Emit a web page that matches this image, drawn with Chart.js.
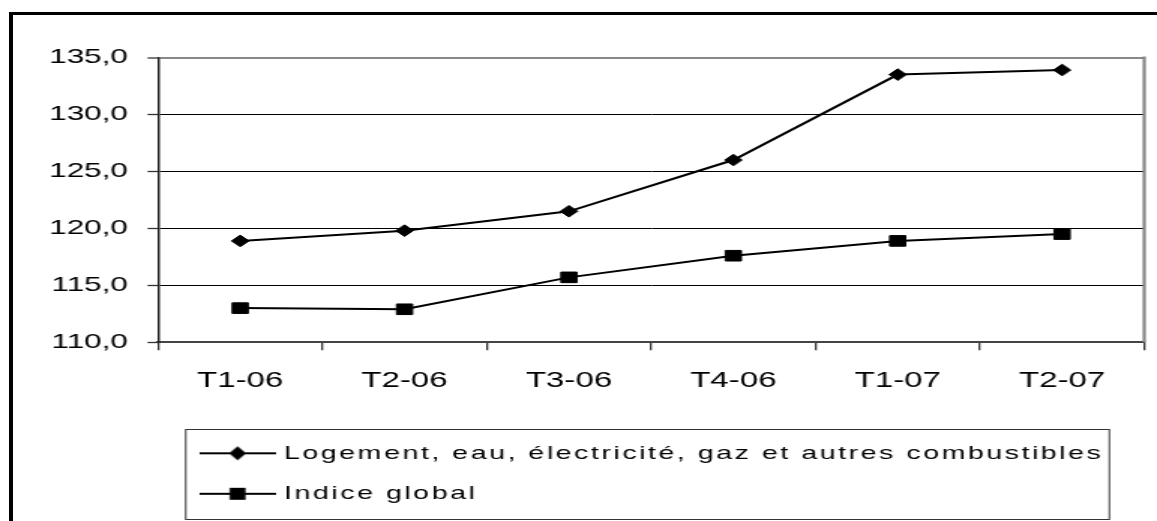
<!DOCTYPE html>
<html><head><meta charset="utf-8">
<script src="https://cdn.jsdelivr.net/npm/chart.js@4"></script>
<style>
html,body{margin:0;padding:0;background:#fff;overflow:hidden;width:1157px;height:521px;}
#c{position:absolute;left:0;top:0;transform-origin:0 0;transform:scaleX(1.50065);}
#frame{position:absolute;left:9px;top:12px;width:1300px;height:700px;border-left:4px solid #000;border-top:3px solid #000;pointer-events:none;}
</style></head><body>
<canvas id="c" width="771" height="521"></canvas>
<div id="frame"></div>
<script>
const categories = ['T1-06', 'T2-06', 'T3-06', 'T4-06', 'T1-07', 'T2-07'];
const logementValues = [118.9, 119.8, 121.5, 126.0, 133.5, 133.9];
const indiceValues = [113.0, 112.9, 115.7, 117.6, 118.9, 119.5];
const seriesNames = ['Logement, eau, électricité, gaz et autres combustibles', 'Indice global'];
const yTickValues = [110, 115, 120, 125, 130, 135];
const yTickLabels = ['110,0', '115,0', '120,0', '125,0', '130,0', '135,0'];

const FONT = '"Liberation Sans", Arial, Helvetica, sans-serif';
Chart.defaults.font.family = FONT;

function legendIcon(kind) {
  const c = document.createElement('canvas');
  c.width = 51; c.height = 16;
  const g = c.getContext('2d');
  g.strokeStyle = '#000'; g.lineWidth = 2;
  g.beginPath(); g.moveTo(0, 8); g.lineTo(51, 8); g.stroke();
  g.fillStyle = '#000'; g.beginPath();
  if (kind === 'diamond') {
    g.moveTo(25.5 - 5.7, 8); g.lineTo(25.5, 1); g.lineTo(25.5 + 5.7, 8); g.lineTo(25.5, 15); g.closePath();
  } else {
    g.rect(25.5 - 5.3, 2, 10.6, 12);
  }
  g.fill();
  return c;
}
const icons = [legendIcon('diamond'), legendIcon('square')];

const SPACING = '1.7px';
const framePlugin = {
  id: 'framePlugin',
  beforeLayout(chart) { chart.ctx.letterSpacing = SPACING; },
  afterLayout(chart) {
    chart.ctx.letterSpacing = '0px';
    const lg = chart.legend;
    if (lg) { lg.left += 10; lg.right += 10; }
  },
  beforeDraw(chart) { chart.ctx.letterSpacing = SPACING; },
  afterDatasetsDraw(chart) { chart.ctx.letterSpacing = '0px'; },
  afterDraw(chart) {
    const ctx = chart.ctx, a = chart.chartArea;
    ctx.save();
    ctx.strokeStyle = '#888'; ctx.lineWidth = 2.2;
    ctx.beginPath(); ctx.moveTo(a.right, a.top - 1); ctx.lineTo(a.right, a.bottom); ctx.stroke();
    const hb = chart.legend && chart.legend.legendHitBoxes;
    if (hb && hb.length > 1) {
      const x0 = hb[0].left - 13, x1 = hb[0].left + hb[0].width + 4;
      const y0 = Math.round(hb[0].top + hb[0].height / 2 - 24) + 0.5;
      const y1 = Math.round(hb[1].top + hb[1].height / 2 + 25) + 0.5;
      ctx.strokeStyle = '#333'; ctx.lineWidth = 1;
      ctx.strokeRect(x0, y0, x1 - x0, y1 - y0);
    }
    ctx.restore();
  }
};

new Chart(document.getElementById('c'), {
  type: 'line',
  data: {
    labels: categories,
    datasets: [
      { label: seriesNames[0], data: logementValues, borderColor: '#000', borderWidth: 2,
        pointStyle: 'rectRot', pointRadius: 5.8, pointBackgroundColor: '#000', pointBorderColor: '#000', pointBorderWidth: 1, tension: 0 },
      { label: seriesNames[1], data: indiceValues, borderColor: '#000', borderWidth: 2,
        pointStyle: 'rect', pointRadius: 7.5, pointBackgroundColor: '#000', pointBorderColor: '#000', pointBorderWidth: 1, tension: 0 }
    ]
  },
  options: {
    responsive: false, animation: false, devicePixelRatio: 1,
    layout: { padding: { left: 0, right: 7.7, top: 57.5, bottom: 7.7 } },
    scales: {
      x: {
        type: 'category', offset: true,
        grid: { offset: true, drawOnChartArea: false, drawTicks: true, tickLength: 8, color: '#333', lineWidth: 1.3 },
        border: { display: true, color: '#444', width: 2 },
        ticks: { font: { size: 22 }, color: '#000', padding: 17.5, maxRotation: 0, minRotation: 0, autoSkip: false, z: 1 },
        afterFit(s) { s.height = 80; }
      },
      y: {
        min: 110, max: 135,
        ticks: { stepSize: 5, font: { size: 21 }, color: '#000', padding: 13, z: 1,
          callback: (v) => { const i = yTickValues.indexOf(v); return i >= 0 ? yTickLabels[i] : ''; } },
        grid: {
          color: (c) => (c.tick && c.tick.value === 135) ? '#888' : '#000',
          lineWidth: (c) => (c.tick && c.tick.value === 135) ? 2 : 1,
          tickColor: '#333', tickLength: 7, tickWidth: 1.3
        },
        border: { color: '#222', width: 1.5 },
        afterFit(s) { s.width = 105.3; }
      }
    },
    plugins: {
      tooltip: { enabled: false },
      legend: {
        position: 'bottom', fullSize: false, align: 'start',
        labels: {
          usePointStyle: true, pointStyleWidth: 43, padding: 21.5, color: '#000', font: { size: 19 },
          generateLabels: (chart) => chart.data.datasets.map((d, i) => ({
            text: d.label, pointStyle: icons[i], fillStyle: '#000', strokeStyle: '#000',
            lineWidth: 0, hidden: false, datasetIndex: i, fontColor: '#000'
          }))
        }
      }
    }
  },
  plugins: [framePlugin]
});
</script>
</body></html>
